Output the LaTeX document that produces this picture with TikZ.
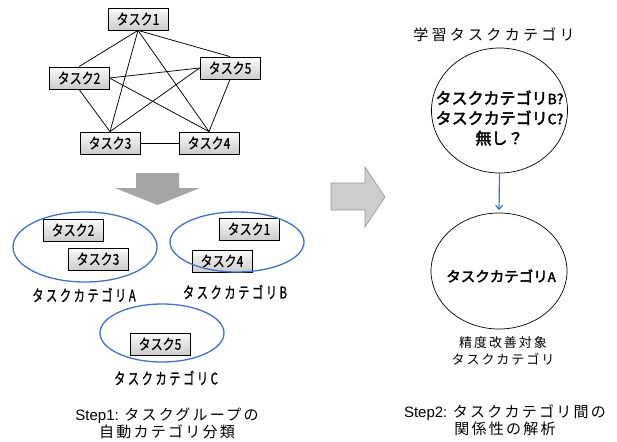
\documentclass[tikz,border=0pt]{standalone}
\usepackage{fontspec}
\setmainfont{Liberation Sans}
\newfontfamily\jp{Noto Sans CJK JP}
\newfontfamily\jpb[FakeBold=2.5]{Noto Sans CJK JP}
\newfontfamily\jpc[FakeStretch=0.8,FakeBold=0.4]{Noto Sans CJK JP}
\newfontfamily\jpcs[FakeStretch=0.7,FakeBold=0.8]{Noto Sans CJK JP}
\newfontfamily\jpsp[LetterSpace=15]{Noto Sans CJK JP}
\newfontfamily\jpwide[LetterSpace=22]{Noto Sans CJK JP}
\newcommand\ks{\hspace{2.6pt}}
\usetikzlibrary{shapes.geometric,arrows.meta}
\definecolor{darrow}{RGB}{165,165,165}
\definecolor{rarrow}{RGB}{205,205,205}
\definecolor{rborder}{RGB}{150,150,150}
\definecolor{oblue}{RGB}{68,114,196}
\tikzset{
  taskbox/.style={draw=black, line width=0.8pt, top color=gray!4, bottom color=gray!40,
    minimum width=60pt, minimum height=22pt, inner sep=0pt,
    font=\fontsize{15}{15}\selectfont\jpc},
  edge/.style={draw=black, line width=0.75pt},
  grp/.style={draw=oblue, line width=1.3pt},
  catlabel/.style={inner sep=0pt, font=\fontsize{16}{16}\selectfont\jpcs},
  steptext/.style={inner sep=0pt, align=center, font=\fontsize{15}{17}\selectfont},
  bigcircle/.style={draw=black, line width=0.7pt, ellipse, inner sep=0pt, align=center},
}
\begin{document}
\begin{tikzpicture}[x=1pt,y=-1pt]
\useasboundingbox (0,0) rectangle (617,441);
% graph of tasks
\node[taskbox] (t1) at (138,19) {タスク1};
\node[taskbox] (t2) at (79,78) {タスク2};
\node[taskbox] (t5) at (230,68) {タスク5};
\node[taskbox] (t3) at (110,143) {タスク3};
\node[taskbox] (t4) at (209,143) {タスク4};
\draw[edge] (t1.south) -- (t2.north);
\draw[edge] (t1.south) -- (t3.north);
\draw[edge] (t1.south) -- (t4.north);
\draw[edge] (t1.south) -- (t5.north);
\draw[edge] (t2.east) -- (t5.west);
\draw[edge] (t2.south) -- (t3.north);
\draw[edge] (t2.east) -- (t4.north);
\draw[edge] (t3.north) -- (t5.west);
\draw[edge] (t3.east) -- (t4.west);
\draw[edge] (t5.south) -- (t4.north);
% down arrow
\fill[darrow] (136,173) -- (179,173) -- (179,188) -- (200,188) -- (157.5,205) -- (115,188) -- (136,188) -- cycle;
% groups
\node[taskbox] (g2) at (73,230) {タスク2};
\node[taskbox] (g3) at (98,259) {タスク3};
\node[taskbox] (g1) at (249,229) {タスク1};
\node[taskbox] (g4) at (222,261) {タスク4};
\node[taskbox] (g5) at (160,344) {タスク5};
\draw[grp] (85,247) ellipse [x radius=72pt, y radius=35pt];
\draw[grp] (237,242) ellipse [x radius=67pt, y radius=30pt];
\draw[grp] (162,333) ellipse [x radius=62pt, y radius=29pt];
\node[catlabel] (la) at (84,295) {タ\ks ス\ks ク\ks カ\ks テ\ks ゴ\ks リ\ks A};
\node[catlabel] (lb) at (235,292) {タ\ks ス\ks ク\ks カ\ks テ\ks ゴ\ks リ\ks B};
\node[catlabel] (lc) at (166,378) {タ\ks ス\ks ク\ks カ\ks テ\ks ゴ\ks リ\ks C};
\node[steptext] (s1) at (167,423.5) {Step1: {\jpsp タスクグループの}\\{\jpsp 自動カテゴリ分類}};
% right arrow
\draw[rborder, fill=rarrow, line width=0.6pt] (331,183) -- (365,183) -- (365,167) -- (385,197) -- (365,227) -- (365,210) -- (331,210) -- cycle;
% right side
\node[inner sep=0pt, font=\fontsize{15}{15}\selectfont\jpwide] (title) at (494,35) {学習タスクカテゴリ};
\node[bigcircle, minimum width=136pt, minimum height=125pt] (c1) at (499.5,110.5) {};
\node[inner sep=0pt, align=center, font=\fontsize{16}{20}\selectfont\jpb] (c1t) at (499.5,118) {タスクカテゴリ{\fontsize{14}{14}\selectfont B?}\\タスクカテゴリ{\fontsize{14}{14}\selectfont C?}\\無し？};
\node[bigcircle, minimum width=136pt, minimum height=116pt] (c2) at (499,271) {};
\node[inner sep=0pt, font=\fontsize{14.5}{14.5}\selectfont\jpb] (c2t) at (501,276) {タスクカテゴリ{\fontsize{13}{13}\selectfont A}};
\draw[oblue, line width=1.2pt, -{Straight Barb[length=4pt,width=7pt]}, shorten >=2.5pt] (c1.south) -- (c2.north);
\node[inner sep=0pt, align=center, font=\fontsize{13}{17}\selectfont\jpsp] (note) at (503,350.5) {精度改善対象\\タスクカテゴリ};
\node[steptext] (s2) at (505,420.5) {Step2: {\jpsp タスクカテゴリ間の}\\{\jpsp 関係性の解析}};
\end{tikzpicture}
\end{document}
